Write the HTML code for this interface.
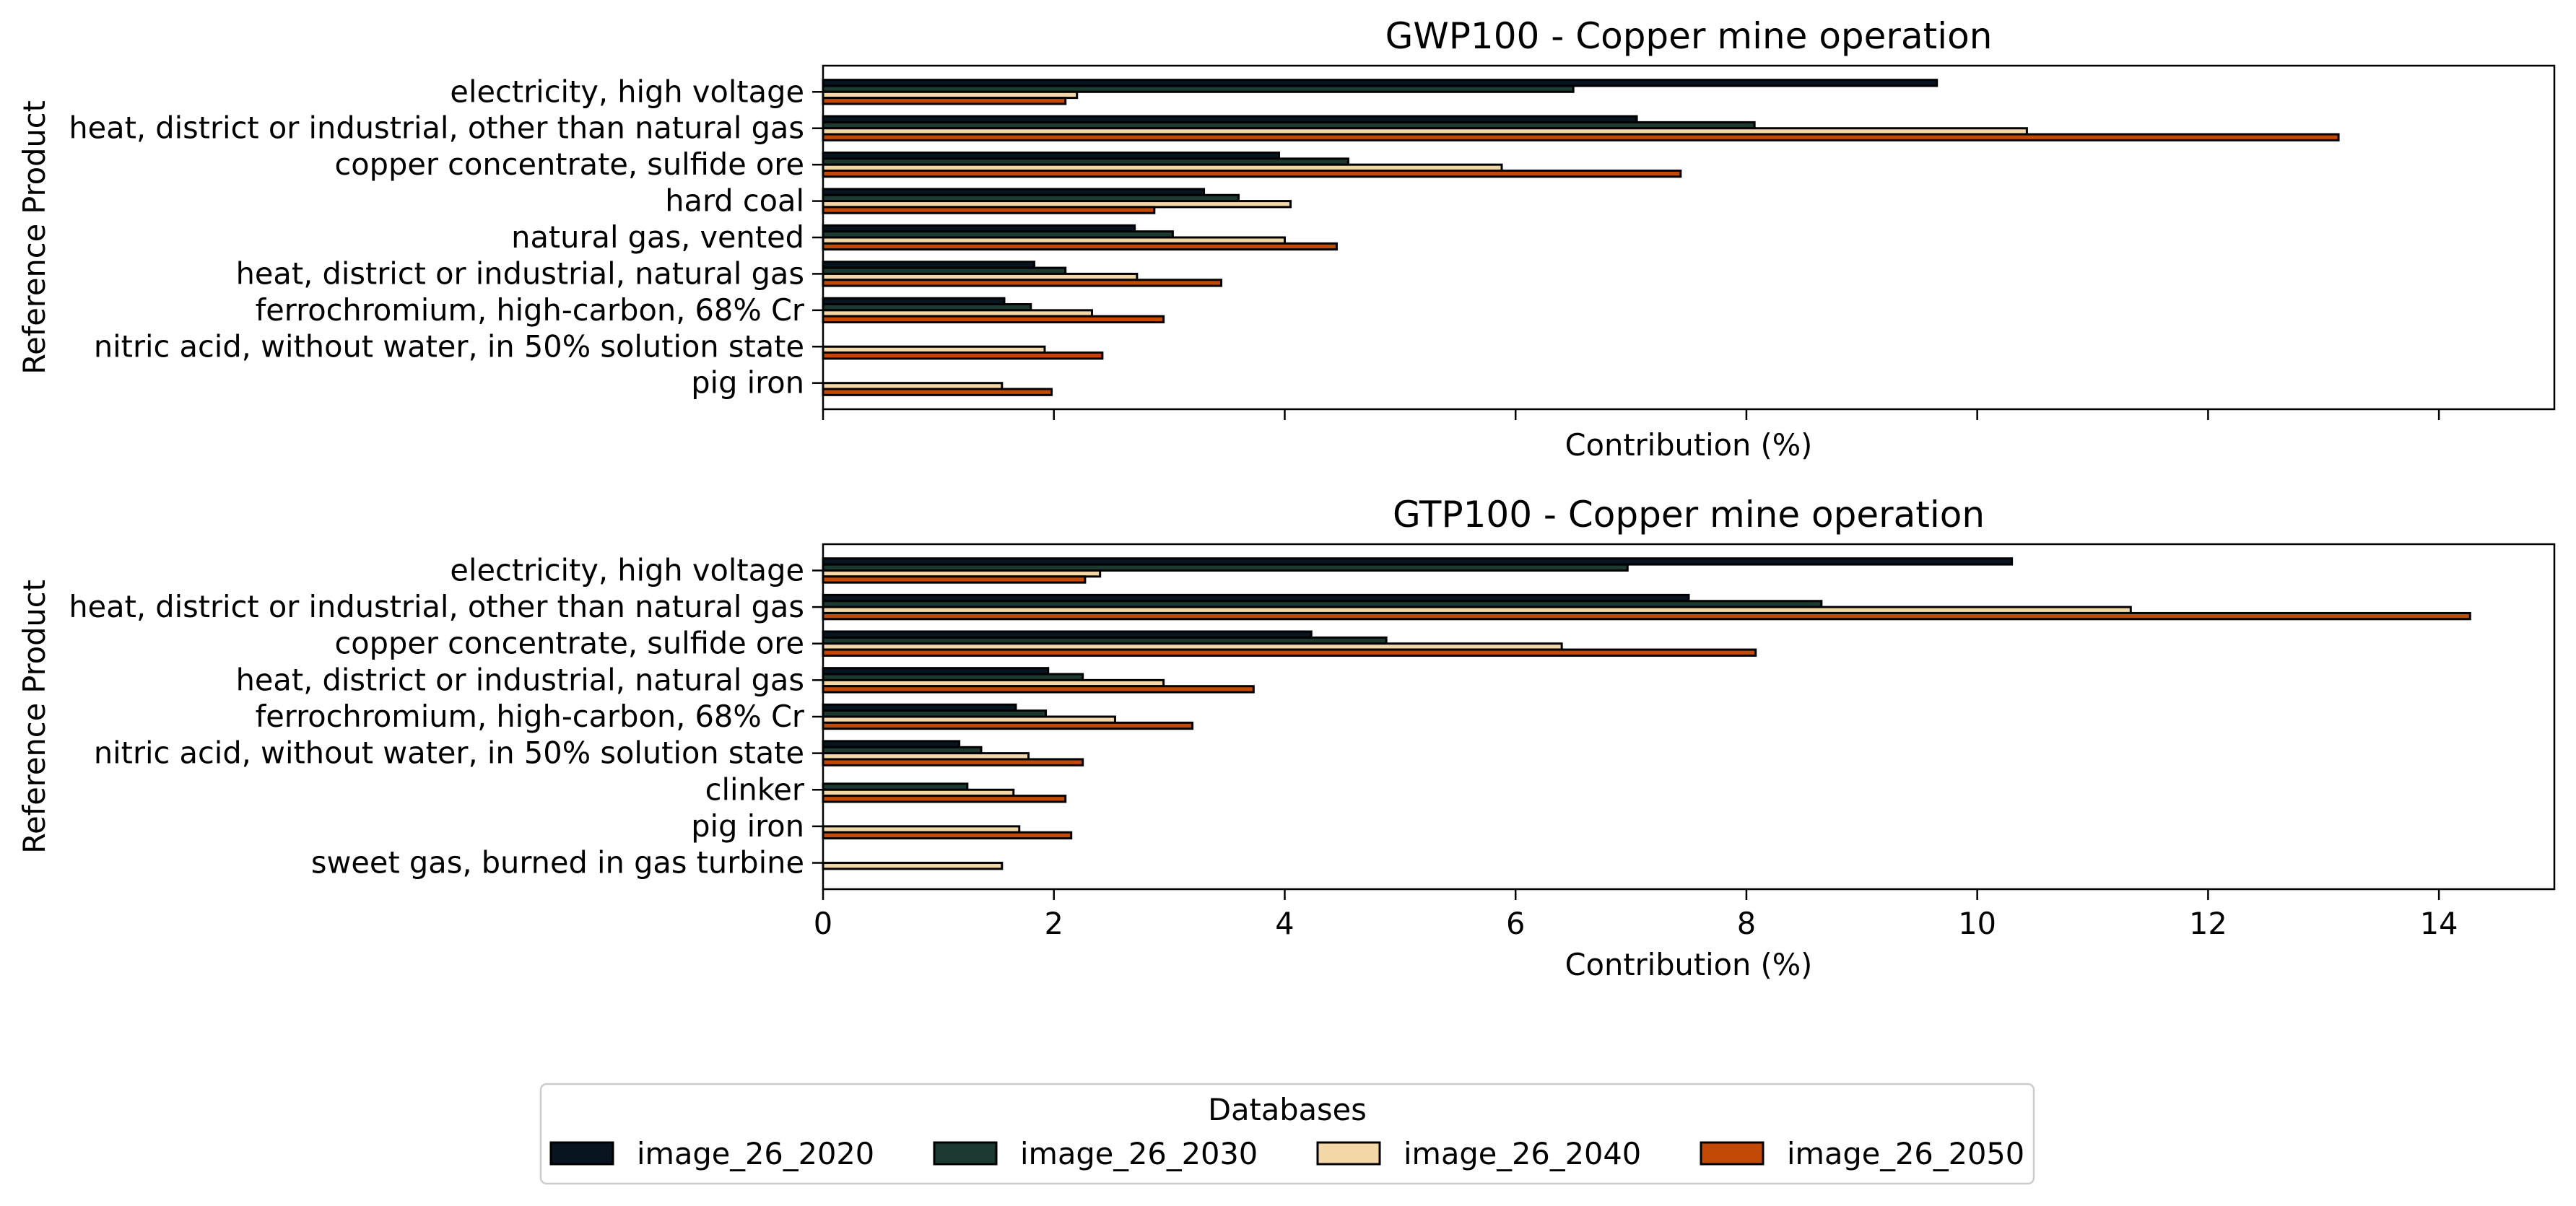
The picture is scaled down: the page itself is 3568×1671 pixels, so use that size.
<!DOCTYPE html>
<html><head><meta charset="utf-8"><style>
html,body{margin:0;padding:0;background:#fff}
svg{display:block;font-family:"DejaVu Sans","Liberation Sans",sans-serif}
</style></head><body>
<svg id="chart" width="3568" height="1671" viewBox="0 0 3568 1671" xmlns="http://www.w3.org/2000/svg">
<rect width="3568" height="1671" fill="#fff"/>
</svg>
<script>
const series = ["image_26_2020","image_26_2030","image_26_2040","image_26_2050"];
const colors = ["#08141f","#1d3a32","#f3d7a7","#c24a06"];
const gwpCategories = ["electricity, high voltage","heat, district or industrial, other than natural gas","copper concentrate, sulfide ore","hard coal","natural gas, vented","heat, district or industrial, natural gas","ferrochromium, high-carbon, 68% Cr","nitric acid, without water, in 50% solution state","pig iron"];
const gwp2020 = [9.65,7.05,3.95,3.3,2.7,1.83,1.57,0,0];
const gwp2030 = [6.5,8.07,4.55,3.6,3.03,2.1,1.8,0,0];
const gwp2040 = [2.2,10.43,5.88,4.05,4.0,2.72,2.33,1.92,1.55];
const gwp2050 = [2.1,13.13,7.43,2.87,4.45,3.45,2.95,2.42,1.98];
const gtpCategories = ["electricity, high voltage","heat, district or industrial, other than natural gas","copper concentrate, sulfide ore","heat, district or industrial, natural gas","ferrochromium, high-carbon, 68% Cr","nitric acid, without water, in 50% solution state","clinker","pig iron","sweet gas, burned in gas turbine"];
const gtp2020 = [10.3,7.5,4.23,1.95,1.67,1.18,0,0,0];
const gtp2030 = [6.97,8.65,4.88,2.25,1.93,1.37,1.25,0,0];
const gtp2040 = [2.4,11.33,6.4,2.95,2.53,1.78,1.65,1.7,1.55];
const gtp2050 = [2.27,14.27,8.08,3.73,3.2,2.25,2.1,2.15,0];
const xTicks = [0,2,4,6,8,10,12,14];
const xMax = 15;

const svg = document.getElementById('chart');
const NS = "http://www.w3.org/2000/svg";
function mk(tag, attrs, parent){const e=document.createElementNS(NS,tag);for(const k in attrs)e.setAttribute(k,attrs[k]);(parent||svg).appendChild(e);return e;}

const L=1140, R=3538;
const MARGIN=0.72, BARW=0.165;
const FS=41.5, TFS=50;
function xs(v){return L + v/xMax*(R-L);}

function panel(top, bottom, title, cats, vals, showLabels, key){
  const g = mk('g',{});
  
  
  const n = cats.length;
  const unit = (bottom-top)/(n-1+2*MARGIN);
  const ys = i => top + (i+MARGIN)*unit;
  vals.forEach((arr, s) => {
    arr.forEach((v, i) => {
      if (v<=0) return;
      const y = ys(i) - 2*BARW*unit + s*BARW*unit;
      const r = mk('rect',{x:xs(0),y:y,width:xs(v)-xs(0),height:BARW*unit,fill:colors[s],stroke:'#000','stroke-width':3},g);
      
      
    });
  });
  cats.forEach((c,i)=>{
    mk('line',{x1:L-15,x2:L,y1:ys(i),y2:ys(i),stroke:'#000','stroke-width':2.5},g);
    const t = mk('text',{x:L-26,y:ys(i)+14,'text-anchor':'end','font-size':FS,fill:'#000'},g);
    t.textContent = c;
    
    
  });
  xTicks.forEach(v=>{
    mk('line',{x1:xs(v),x2:xs(v),y1:bottom,y2:bottom+15,stroke:'#000','stroke-width':2.5},g);
    if(showLabels){
      const t = mk('text',{x:xs(v),y:bottom+62,'text-anchor':'middle','font-size':FS,fill:'#000'},g);
      t.textContent = v;
      
      
    }
  });
  mk('rect',{x:L,y:top,width:R-L,height:bottom-top,fill:'none',stroke:'#000','stroke-width':2.5},g);
  const tt = mk('text',{x:(L+R)/2,y:top-24,'text-anchor':'middle','font-size':TFS,fill:'#000'},g);
  tt.textContent = title;
  
  
  const xl = mk('text',{x:(L+R)/2,y:showLabels?bottom+119:bottom+64,'text-anchor':'middle','font-size':FS,fill:'#000'},g);
  xl.textContent = 'Contribution (%)';
  
  
  const yl = mk('text',{x:0,y:0,'text-anchor':'middle','font-size':FS,fill:'#000',transform:`translate(62,${(top+bottom)/2}) rotate(-90)`},g);
  yl.textContent = 'Reference Product';
  
  
}
panel(91,567,'GWP100 - Copper mine operation',gwpCategories,[gwp2020,gwp2030,gwp2040,gwp2050],false,'gwp100');
panel(754,1232,'GTP100 - Copper mine operation',gtpCategories,[gtp2020,gtp2030,gtp2040,gtp2050],true,'gtp100');

const lg = mk('g',{});


mk('rect',{x:749,y:1502,width:2068,height:138,rx:8,fill:'#fff',stroke:'#ccc','stroke-width':2.5},lg);
const lt = mk('text',{x:1783,y:1552,'text-anchor':'middle','font-size':FS,fill:'#000'},lg);
lt.textContent='Databases';


const lx=[763,1294,1825,2356];
series.forEach((s,i)=>{
  const e = mk('g',{},lg);
  
  
  mk('rect',{x:lx[i],y:1583,width:86,height:30,fill:colors[i],stroke:'#000','stroke-width':3},e);
  const t = mk('text',{x:lx[i]+119,y:1613,'font-size':FS,fill:'#000'},e);
  t.textContent = s;
});
</script>
</body></html>
